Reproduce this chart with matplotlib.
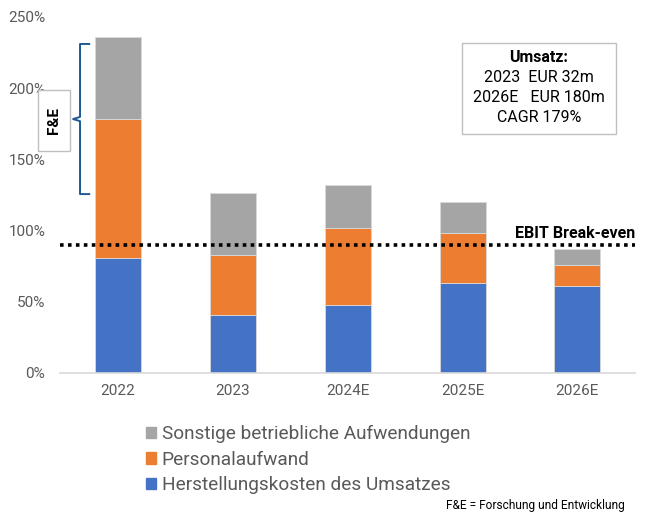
import numpy as np
import matplotlib.pyplot as plt
from matplotlib.patches import Patch, Rectangle

plt.rcParams['font.family'] = ['Roboto', 'DejaVu Sans']

# Daten (in % vom Umsatz)
years = ["2022", "2023", "2024E", "2025E", "2026E"]
herstellung = [81, 40.5, 48, 63, 61]
personal = [97, 42.5, 54, 35.5, 15]
sonstige = [58, 43.5, 30, 21.5, 11]
break_even = 90
yticks = [0, 50, 100, 150, 200, 250]
umsatz_lines = ["2023  EUR 32m", "2026E   EUR 180m", "CAGR 179%"]

c_blue = "#4472C4"
c_orange = "#ED7D31"
c_gray = "#A5A5A5"
txt_gray = "#595959"

W, H = 649, 513
fig = plt.figure(figsize=(W / 100, H / 100), dpi=100)
ax = fig.add_axes([0.0932, 0.273, 0.885, 0.694])

x = np.arange(len(years))
w = 0.4
b1 = np.array(herstellung)
b2 = b1 + np.array(personal)
ax.bar(x, herstellung, w, color=c_blue, edgecolor="#d9d9d9", linewidth=0.6)
ax.bar(x, personal, w, bottom=b1, color=c_orange, edgecolor="#d9d9d9", linewidth=0.6)
ax.bar(x, sonstige, w, bottom=b2, color=c_gray, edgecolor="#d9d9d9", linewidth=0.6)

ax.set_xlim(-0.5, 4.5)
ax.set_ylim(0, 250)
ax.set_xticks(x)
ax.set_xticklabels(years, fontsize=11, color=txt_gray)
ax.set_yticks(yticks)
ax.set_yticklabels([f"{t}%" for t in yticks], fontsize=11, color=txt_gray)
ax.tick_params(length=0, pad=8)
ax.tick_params(axis="y", pad=11)
for s in ["top", "right", "left"]:
    ax.spines[s].set_visible(False)
ax.spines["bottom"].set_color("#d9d9d9")
ax.spines["bottom"].set_linewidth(1.2)

# EBIT Break-even Linie
ax.plot([-0.5, 4.5], [break_even, break_even], color="black", linestyle=(0, (1, 1.2)),
        linewidth=2.6, clip_on=False, zorder=5)
ax.text(4.5, break_even + 3, "EBIT Break-even", ha="right", va="bottom",
        fontsize=11.5, fontweight="bold")

# Umsatz-Box
fig.patches.append(Rectangle((462 / W, 1 - 134 / H), 154 / W, 91 / H,
                             transform=fig.transFigure, fc="white", ec="#bfbfbf", lw=1))
fig.text(539 / W, 1 - 58 / H, "Umsatz:", ha="center", va="center",
         fontsize=11.5, fontweight="bold")
for i, line in enumerate(umsatz_lines):
    fig.text(539 / W, 1 - (78 + 20 * i) / H, line, ha="center", va="center",
             fontsize=11.5)

# F&E Klammer
bx, tip, hook = -0.33, -0.39, -0.25
top, bot = 231, 125.6
mid = (top + bot) / 2
ax.plot([hook, bx, bx, tip, bx, bx, hook], [top, top, mid + 1.5, mid, mid - 1.5, bot, bot],
        color="#1F5A96", linewidth=1.4, clip_on=False)
fig.patches.append(Rectangle((38 / W, 1 - 151 / H), 32 / W, 61 / H,
                             transform=fig.transFigure, fc="white", ec="#bfbfbf", lw=1))
fig.text(54 / W, 1 - 121 / H, "F&E", rotation=90, ha="center", va="center",
         fontsize=11, fontweight="bold")

# Legende
handles = [Patch(color=c_gray), Patch(color=c_orange), Patch(color=c_blue)]
labels = ["Sonstige betriebliche Aufwendungen", "Personalaufwand",
          "Herstellungskosten des Umsatzes"]
fig.legend(handles, labels, loc="upper left", bbox_to_anchor=(146 / W, 1 - 425 / H),
           frameon=False, fontsize=13.7, labelspacing=0.4, handlelength=0.55,
           handleheight=0.55, handletextpad=0.27, borderpad=0, borderaxespad=0,
           labelcolor=txt_gray)

fig.text(446 / W, 1 - 506 / H, "F&E = Forschung und Entwicklung", fontsize=8.6,
         va="center", ha="left")

fig.savefig("out.png", dpi=100)
